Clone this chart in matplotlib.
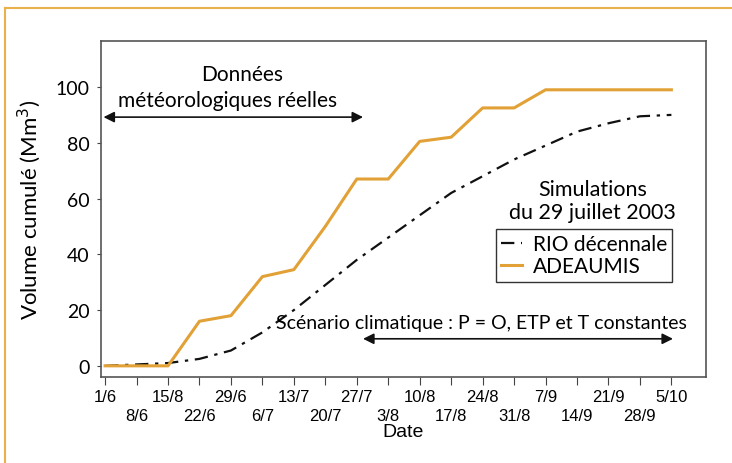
import matplotlib.pyplot as plt
from matplotlib.lines import Line2D

ORANGE = '#e2a136'
FRAME = '#eab04a'
BLACK = '#111111'

dates = ['1/6', '8/6', '15/8', '22/6', '29/6', '6/7', '13/7', '20/7', '27/7',
         '3/8', '10/8', '17/8', '24/8', '31/8', '7/9', '14/9', '21/9', '28/9', '5/10']
adeaumis = [0, 0, 0, 16, 18, 32, 34.5, 50, 67, 67, 80.5, 82, 92.5, 92.5,
            99, 99, 99, 99, 99]
rio = [0, 0.5, 1, 2.5, 5.5, 12, 20, 29, 38, 46, 54, 62, 68, 74, 79, 84,
       87, 89.5, 90]

LABEL_FONT = ['Lato', 'DejaVu Sans']
TICK_FONT = ['Liberation Sans Narrow', 'Liberation Sans', 'DejaVu Sans']

fig = plt.figure(figsize=(7.32, 4.64), dpi=100)

# orange frame round the figure (top and left only)
fig.add_artist(Line2D([5 / 732, 1], [1 - 9 / 464, 1 - 9 / 464],
                      color=FRAME, lw=1.5, transform=fig.transFigure))
fig.add_artist(Line2D([5 / 732, 5 / 732], [0, 1 - 9 / 464],
                      color=FRAME, lw=1.5, transform=fig.transFigure))

ax = fig.add_axes([101 / 732, 1 - 378 / 464, 605 / 732, 336 / 464])
x = list(range(len(dates)))

ax.plot(x, rio, color=BLACK, lw=1.6, dashes=(6, 3, 1.5, 3),
        label='RIO décennale')
ax.plot(x, adeaumis, color=ORANGE, lw=2.2, label='ADEAUMIS')

ax.set_xlim(-0.13, 19.1)
ax.set_ylim(-4, 116.5)
ax.set_yticks(range(0, 101, 20))
ax.set_xticks(x)
ax.set_xticklabels([d if i % 2 == 0 else '\n' + d for i, d in enumerate(dates)],
                   family=TICK_FONT, fontsize=12, linespacing=1.3)
for lab in ax.get_yticklabels():
    lab.set_family(LABEL_FONT)
    lab.set_fontsize(14)
ax.tick_params(axis='x', direction='out', length=6, color='#444444', pad=3)
ax.tick_params(axis='y', direction='out', length=3, color='#444444', pad=5)
for s in ax.spines.values():
    s.set_color('#555555')
    s.set_linewidth(1.2)

ax.set_xlabel('Date', family=TICK_FONT, fontsize=14, labelpad=0)
ax.set_ylabel('Volume cumulé (Mm$^3$)', family=LABEL_FONT, fontsize=16,
              labelpad=9)

# meteorological data arrow
ax.annotate('', xy=(-0.05, 89.2), xytext=(8.2, 89.2),
            arrowprops=dict(arrowstyle='<|-|>', color=BLACK, lw=1.2,
                            mutation_scale=16, shrinkA=0, shrinkB=0))
ax.text(4.36, 104.5, 'Données', ha='center', va='center',
        family=LABEL_FONT, fontsize=15)
ax.text(3.9, 95.3, 'météorologiques réelles', ha='center', va='center',
        family=LABEL_FONT, fontsize=15)

# climatic scenario arrow
ax.annotate('', xy=(8.2, 9.7), xytext=(18.05, 9.7),
            arrowprops=dict(arrowstyle='<|-|>', color=BLACK, lw=1.2,
                            mutation_scale=16, shrinkA=0, shrinkB=0))
ax.text(11.95, 15.4, 'Scénario climatique : P = O, ETP et T constantes',
        ha='center', va='center', family=LABEL_FONT, fontsize=14)

ax.text(15.5, 63.5, 'Simulations', ha='center', va='center',
        family=LABEL_FONT, fontsize=15.5)
ax.text(15.5, 55, 'du 29 juillet 2003', ha='center', va='center',
        family=LABEL_FONT, fontsize=15.5)

leg = ax.legend(loc='upper right', bbox_to_anchor=(0.944, 0.44),
                prop={'family': LABEL_FONT, 'size': 15},
                fancybox=False, framealpha=1, edgecolor='#333333',
                handlelength=1.0, handletextpad=0.5, borderpad=0.25,
                labelspacing=0.1, borderaxespad=0)
leg.get_frame().set_linewidth(1.0)

fig.savefig('out.png', dpi=100)
